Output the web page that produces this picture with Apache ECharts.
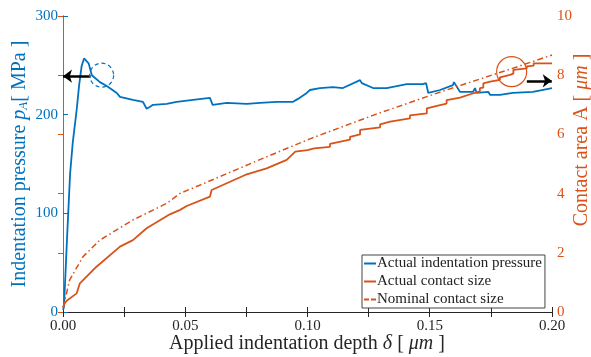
<!DOCTYPE html>
<html>
<head>
<meta charset="utf-8">
<script src="https://cdn.jsdelivr.net/npm/echarts@6/dist/echarts.min.js"></script>
<style>
html,body{margin:0;padding:0;background:#fff;}
#chart{width:591px;height:357px;}
</style>
</head>
<body>
<div id="chart"></div>
<script>
// ---- data ----
const xTicks = [0, 0.05, 0.10, 0.15, 0.20];
const leftTicks = [0, 100, 200, 300];
const rightTicks = [0, 2, 4, 6, 8, 10];

// Actual indentation pressure (MPa)
const pressureDepth = [0, 0.0004, 0.0016, 0.0029, 0.0040, 0.0056, 0.0066, 0.0076, 0.0086, 0.0094, 0.0105, 0.0118, 0.0151, 0.0179, 0.0220, 0.0233, 0.0286, 0.0327, 0.0342, 0.0356, 0.0368, 0.0424, 0.0465, 0.0532, 0.0601, 0.0612, 0.0670, 0.0751, 0.0806, 0.0874, 0.0941, 0.0961, 0.0997, 0.1010, 0.1051, 0.1104, 0.1145, 0.1215, 0.1222, 0.1268, 0.1324, 0.1406, 0.1472, 0.1485, 0.1494, 0.1542, 0.1595, 0.1599, 0.1624, 0.1677, 0.1685, 0.1692, 0.1740, 0.1747, 0.1787, 0.1840, 0.1922, 0.2000];
const pressureVals = [2, 5, 72, 140, 172, 205, 230, 249, 257, 259, 252, 240, 233, 229, 222, 218, 215, 213, 206, 208, 210, 211, 213, 215, 217, 210, 212, 211, 212, 213, 213, 216, 222, 225, 227, 228, 227, 235, 232, 227, 227, 231, 231, 232, 222, 225, 230, 233, 223, 223, 227, 222, 223, 220, 220, 222, 223, 227];

// Actual contact size (um^2)
const actualDepth = [0, 0.0007, 0.0015, 0.0056, 0.0069, 0.0137, 0.0233, 0.0286, 0.0342, 0.0437, 0.0479, 0.0506, 0.0601, 0.0608, 0.0745, 0.0833, 0.0915, 0.0950, 0.1000, 0.1028, 0.1092, 0.1092, 0.1174, 0.1174, 0.1215, 0.1215, 0.1297, 0.1297, 0.1338, 0.1419, 0.1419, 0.1488, 0.1488, 0.1542, 0.1569, 0.1569, 0.1624, 0.1624, 0.1678, 0.1705, 0.1705, 0.1719, 0.1719, 0.1747, 0.1787, 0.1787, 0.1828, 0.1842, 0.1842, 0.1897, 0.1897, 0.1925, 0.1925, 0.2000];
const actualVals = [0.15, 0.29, 0.38, 0.63, 0.97, 1.53, 2.21, 2.43, 2.83, 3.30, 3.45, 3.58, 3.90, 4.12, 4.63, 4.85, 5.14, 5.42, 5.47, 5.53, 5.58, 5.68, 5.82, 5.92, 6.00, 6.15, 6.24, 6.34, 6.43, 6.54, 6.64, 6.71, 6.88, 6.99, 7.04, 7.16, 7.24, 7.30, 7.39, 7.45, 7.56, 7.58, 7.72, 7.78, 7.84, 7.93, 8.01, 8.05, 8.18, 8.23, 8.30, 8.32, 8.40, 8.40];

// Nominal contact size (um^2)
const nominalDepth = [0, 0.0005, 0.0027, 0.0082, 0.0151, 0.0286, 0.0424, 0.0479, 0.0561, 0.0800, 0.1010, 0.1273, 0.1546, 0.1820, 0.2000];
const nominalVals = [0.15, 0.30, 1.08, 1.87, 2.43, 3.11, 3.67, 4.01, 4.29, 5.13, 5.85, 6.66, 7.44, 8.18, 8.68];

// axis titles
const xTitle = 'Applied indentation depth {i|δ} [ {i|μm} ]';
const yLeftTitle = 'Indentation pressure {i|p}{s|A}[ MPa ]';
const yRightTitle = 'Contact area A [ {i|μm} ]';

// annotation anchors (data coordinates)
const leftArrow = [[0.0113, 239], [0, 239]];
const leftCircle = [0.0158, 240];
const rightCircle = [0.1835, 8.12];
const rightArrow = [[0.1897, 7.81], [0.1999, 7.81]];

const BLUE = '#0072BD';
const ORANGE = '#D95319';
const DARK = '#262626';
const FONT = 'Liberation Serif';

function zip(a, b) { return a.map((v, i) => [v, b[i]]); }

const chart = echarts.init(document.getElementById('chart'));
chart.setOption({
  animation: false,
  backgroundColor: '#fff',
  textStyle: { fontFamily: FONT },
  grid: { left: 63, right: 39, top: 16, bottom: 45, containLabel: false, outerBoundsMode: 'none' },
  legend: {
    orient: 'vertical',
    left: 362, top: 255,
    backgroundColor: '#fff',
    borderColor: '#444', borderWidth: 1,
    padding: [1, 3, 1, 2],
    itemGap: 3,
    itemWidth: 12, itemHeight: 2,
    textStyle: { fontFamily: FONT, fontSize: 15, color: '#222', padding: [0, 0, 0, -4] },
    data: [
      { name: 'Actual indentation pressure', icon: 'path://M0 0H12V2H0Z' },
      { name: 'Actual contact size', icon: 'path://M0 0H12V2H0Z' },
      { name: 'Nominal contact size', icon: 'path://M0 0H5V2H0ZM7 0H12V2H7Z' }
    ]
  },
  graphic: [{
    type: 'text', x: 307, y: 344,
    style: { text: xTitle, fill: DARK, font: '20px "Liberation Serif"', align: 'center', verticalAlign: 'middle',
      rich: { i: { fontFamily: FONT, fontSize: 20, fontStyle: 'italic', fill: DARK } } }
  }, {
    type: 'text', x: 20, y: 164, rotation: Math.PI / 2,
    style: { text: yLeftTitle, fill: BLUE, font: '20px "Liberation Serif"', align: 'center', verticalAlign: 'middle',
      rich: { i: { fontFamily: FONT, fontSize: 20, fontStyle: 'italic', fill: BLUE },
              s: { fontFamily: FONT, fontSize: 13, fontStyle: 'italic', fill: BLUE, verticalAlign: 'bottom', padding: [7, 0, 0, 0] } } }
  }, {
    type: 'text', x: 582, y: 140, rotation: Math.PI / 2,
    style: { text: yRightTitle, fill: ORANGE, font: '20px "Liberation Serif"', align: 'center', verticalAlign: 'middle',
      rich: { i: { fontFamily: FONT, fontSize: 20, fontStyle: 'italic', fill: ORANGE } } }
  }],
  xAxis: [{
    type: 'value', min: 0, max: 0.2, interval: 0.025,
    position: 'bottom',
    axisLine: { lineStyle: { color: DARK, width: 1 } },
    axisTick: { inside: true, length: 5, lineStyle: { color: DARK } },
    axisLabel: { fontFamily: FONT, fontSize: 15, color: DARK, margin: 7,
      formatter: v => {
        const r = Math.round(v * 1000) / 1000;
        return xTicks.some(t => Math.abs(t - r) < 1e-6) ? r.toFixed(2) : '';
      } },
    splitLine: { show: false }
  }, {
    type: 'value', min: 0, max: 0.2, interval: 0.025,
    position: 'top',
    axisLine: { show: true, lineStyle: { color: DARK, width: 1 } },
    axisTick: { show: true, inside: true, length: 5, lineStyle: { color: DARK } },
    axisLabel: { show: false },
    splitLine: { show: false }
  }],
  yAxis: [{
    type: 'value', min: 0, max: 300, interval: 100,
    position: 'left',
    axisLine: { show: true, lineStyle: { color: BLUE, width: 1 } },
    axisTick: { show: true, inside: true, length: 5, lineStyle: { color: BLUE } },
    axisLabel: { fontFamily: FONT, fontSize: 15, color: BLUE, margin: 5 },
    splitLine: { show: false }
  }, {
    type: 'value', min: 0, max: 10, interval: 2,
    position: 'right',
    axisLine: { show: true, lineStyle: { color: ORANGE, width: 1 } },
    axisTick: { show: true, inside: true, length: 5, lineStyle: { color: ORANGE } },
    axisLabel: { fontFamily: FONT, fontSize: 15, color: ORANGE, margin: 5 },
    splitLine: { show: false }
  }],
  series: [{
    name: 'Actual indentation pressure',
    type: 'line', xAxisIndex: 0, yAxisIndex: 0,
    symbol: 'none', showSymbol: false,
    data: zip(pressureDepth, pressureVals),
    lineStyle: { color: BLUE, width: 1.8 },
    itemStyle: { color: BLUE },
    z: 3,
    markLine: {
      silent: true, symbol: ['none', 'arrow'], symbolSize: [10, 9],
      label: { show: false },
      lineStyle: { color: '#000', width: 2.5, type: 'solid' },
      data: [[{ coord: leftArrow[0] }, { coord: leftArrow[1] }]]
    },
    markPoint: {
      silent: true, symbol: 'circle', symbolSize: 24,
      label: { show: false },
      itemStyle: { color: 'rgba(0,0,0,0)', borderColor: BLUE, borderWidth: 1.2, borderType: [4, 3] },
      data: [{ coord: leftCircle }]
    }
  }, {
    name: 'Actual contact size',
    type: 'line', xAxisIndex: 0, yAxisIndex: 1,
    symbol: 'none', showSymbol: false,
    data: zip(actualDepth, actualVals),
    lineStyle: { color: ORANGE, width: 1.8 },
    itemStyle: { color: ORANGE },
    z: 4,
    markLine: {
      silent: true, symbol: ['none', 'arrow'], symbolSize: [10, 9],
      label: { show: false },
      lineStyle: { color: '#000', width: 2.5, type: 'solid' },
      data: [[{ coord: rightArrow[0] }, { coord: rightArrow[1] }]]
    },
    markPoint: {
      silent: true, symbol: 'circle', symbolSize: 30,
      label: { show: false },
      itemStyle: { color: 'rgba(0,0,0,0)', borderColor: ORANGE, borderWidth: 1.2 },
      data: [{ coord: rightCircle }]
    }
  }, {
    name: 'Nominal contact size',
    type: 'line', xAxisIndex: 0, yAxisIndex: 1,
    symbol: 'none', showSymbol: false,
    data: zip(nominalDepth, nominalVals),
    lineStyle: { color: ORANGE, width: 1.5, type: [6, 3, 1.5, 3] },
    itemStyle: { color: ORANGE },
    z: 4
  }]
});
</script>
</body>
</html>
